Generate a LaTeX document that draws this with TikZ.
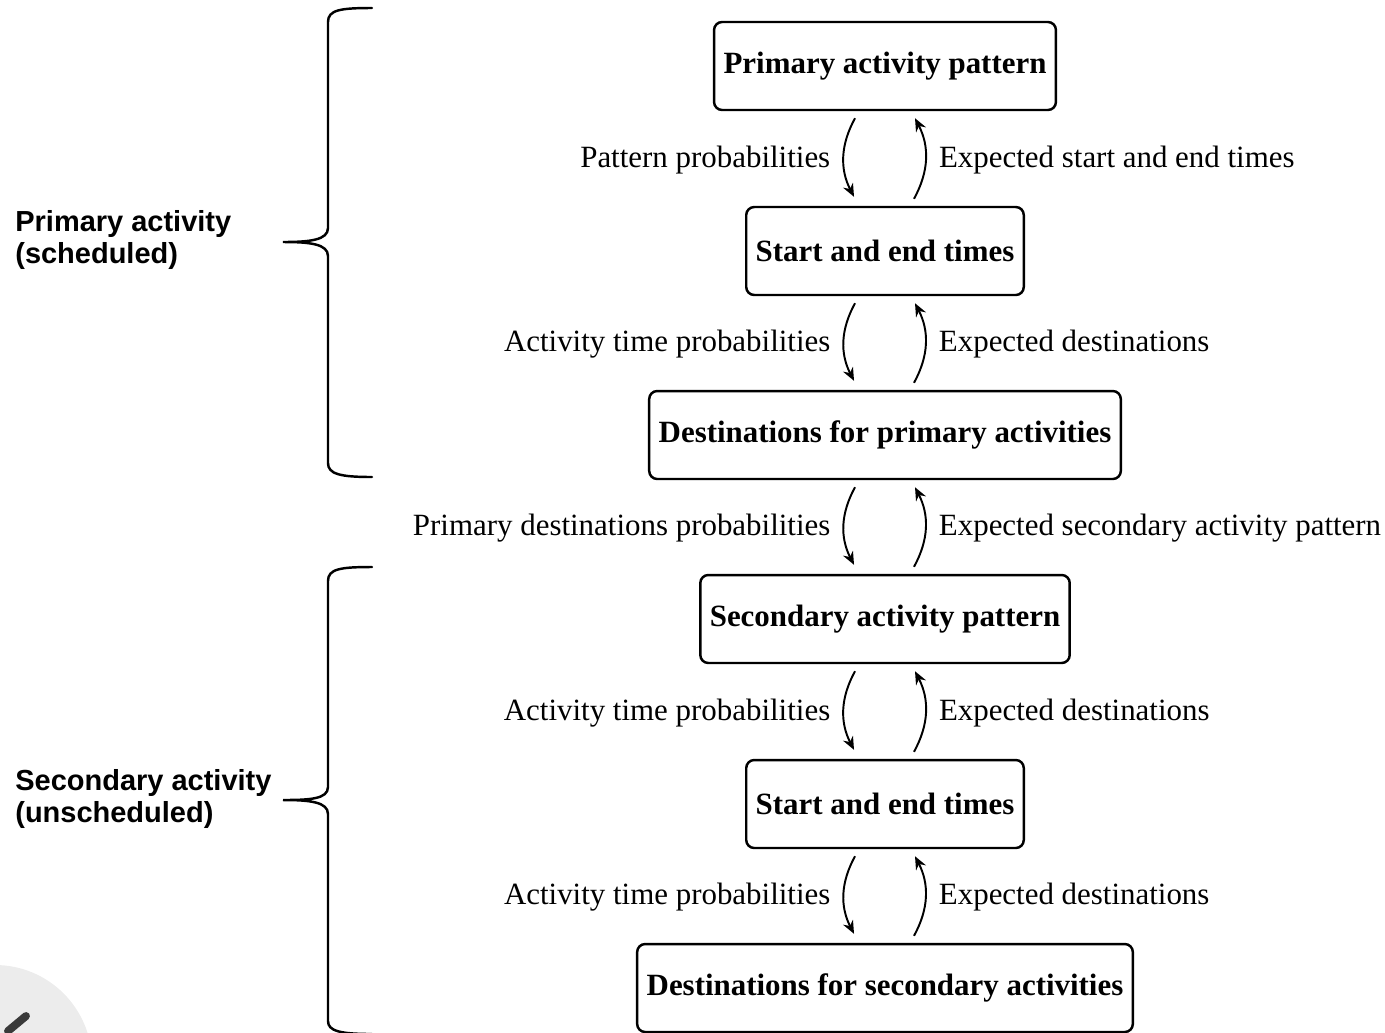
\documentclass[tikz,border=0pt]{standalone}
\usepackage{fontspec}
\setmainfont{Liberation Serif}
\setsansfont{Liberation Sans}
\usetikzlibrary{calc,arrows.meta}
\definecolor{ink}{HTML}{000000}
\definecolor{fog}{HTML}{ECECEC}
\definecolor{pen}{HTML}{3A3A3A}
\tikzset{
  box/.style={draw=ink, line width=1.4pt, rounded corners=0.16cm, minimum height=1.76cm,
    inner xsep=0.19cm, font=\fontsize{17.6}{21}\selectfont\bfseries},
  flow/.style={draw=ink, line width=1.1pt, -{Stealth[length=2.6mm,width=2.2mm]}},
  lab/.style={font=\fontsize{17.6}{21}\selectfont, inner xsep=0.25cm},
  side/.style={font=\fontsize{16.5}{18.2}\selectfont\sffamily\bfseries, align=left,
    inner sep=0pt, anchor=west},
  brace/.style={draw=ink, line width=1.4pt, line cap=round},
}
\begin{document}
\begin{tikzpicture}[x=0.02cm,y=-0.02cm]
  \useasboundingbox (0,0) rectangle (1385,1032);

  % corner mark
  \fill[fog] (-5,1062) circle (97);
  \draw[pen, line width=4.5pt, line cap=round] (8,1031) -- (26,1016);

  % boxes
  \node[box] (b1) at (885,66)  {Primary activity pattern};
  \node[box] (b2) at (885,251) {Start and end times};
  \node[box] (b3) at (885,435) {Destinations for primary activities};
  \node[box] (b4) at (885,619) {Secondary activity pattern};
  \node[box] (b5) at (885,804) {Start and end times};
  \node[box] (b6) at (885,988) {Destinations for secondary activities};

  % arrows
  \foreach \u/\v/\l/\r in {
      b1/b2/Pattern probabilities/Expected start and end times,
      b2/b3/Activity time probabilities/Expected destinations,
      b3/b4/Primary destinations probabilities/Expected secondary activity pattern,
      b4/b5/Activity time probabilities/Expected destinations,
      b5/b6/Activity time probabilities/Expected destinations} {
    \draw[flow] ($(\u.south)+(-30,7)$) to[bend right=28]
      node[lab,left,yshift=-0.05cm]{\l} ($(\v.north)+(-31,-9)$);
    \draw[flow] ($(\v.north)+(29,-7)$) to[bend right=28]
      node[lab,right,yshift=-0.02cm]{\r} ($(\u.south)+(30,7)$);
  }

  % braces
  \draw[brace] (372,8) .. controls (340,8) and (328,10) .. (328,22) -- (328,228)
    .. controls (328,240) and (310,242) .. (283,242)
    .. controls (310,242) and (328,244) .. (328,256) -- (328,463)
    .. controls (328,474) and (340,477) .. (372,477);
  \draw[brace] (372,567) .. controls (340,567) and (328,569) .. (328,581) -- (328,787)
    .. controls (328,799) and (310,800) .. (283,800)
    .. controls (310,800) and (328,802) .. (328,814) -- (328,1021)
    .. controls (328,1031) and (340,1034) .. (372,1034);

  \node[side] (grpA) at (15,240) {Primary activity\\(scheduled)};
  \node[side] (grpB) at (15,799) {Secondary activity\\(unscheduled)};
\end{tikzpicture}
\end{document}
